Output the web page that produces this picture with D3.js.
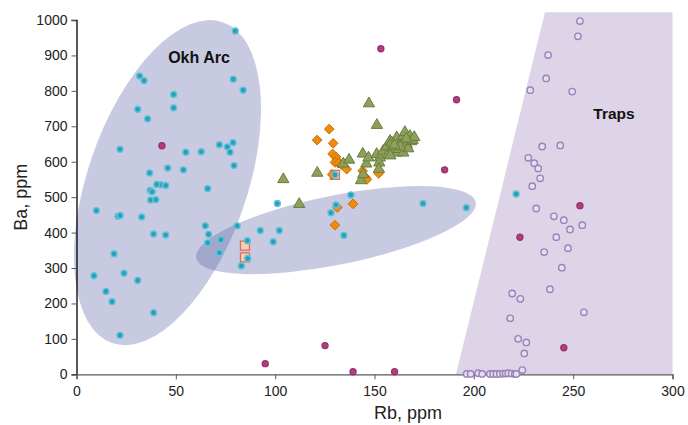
<!DOCTYPE html>
<html>
<head>
<meta charset="utf-8">
<script src="https://cdn.jsdelivr.net/npm/d3@7"></script>
<style>
  html, body { margin: 0; padding: 0; background: #fff; }
  svg { display: block; font-family: Arial, "Liberation Sans", sans-serif; }
</style>
</head>
<body>
<svg id="chart" width="688" height="425"></svg>
<script>
// Rb (ppm) vs Ba (ppm) discrimination plot

const xTicks = [0, 50, 100, 150, 200, 250, 300];
const yTicks = [0, 100, 200, 300, 400, 500, 600, 700, 800, 900, 1000];

// Okhotsk arc volcanics
const arcRb = [79.9,31.8,34.0,78.9,83.9,48.9,30.8,48.9,35.8,21.9,71.9,78.8,75.9,77.3,62.8,55.0,79.3,45.9,53.8,36.8,66.0,42.5,44.9,40.4,37.1,38.1,37.3,39.9,10.0,20.9,22.0,32.8,64.8,38.8,44.9,66.5,72.7,66.0,71.9,80.9,18.9,8.8,23.9,30.8,14.8,17.9,38.8,21.9,83.0,101.1,130.6,138.1,128.1,134.6,174.4,196.2,92.5,102.1,99.0,86.0,86.2,130.1,221.3];
const arcBa = [969,842,829,833,802,790,748,752,721,635,648,654,642,627,628,627,589,582,577,568,524,535,533,536,519,515,492,493,462,446,448,444,419,396,393,395,380,371,343,419,340,278,285,265,234,205,174,110,306,482,478,506,456,392,482,470,406,406,374,377,327,563,509];

// Green triangle group
const triRb = [104.1,112.1,121.2,147.2,151.2,134.3,137.2,144.1,145.9,147.0,143.2,144.3,151.1,152.7,152.4,152.2,154.4,156.1,156.9,157.8,158.6,159.4,160.0,161.2,161.2,162.0,162.8,163.5,164.5,164.5,165.3,166.2,167.0,167.8,168.5,169.2,170.0,158.0,163.0,166.0,160.0];
const triBa = [553,483,571,767,706,597,608,625,597,614,550,567,624,614,600,582,633,645,624,661,657,642,630,671,628,638,652,660,675,628,686,652,640,675,660,664,672,620,645,668,650];

// Orange diamond group
const diaRb = [127.2,121.1,129.2,128.9,130.6,131.0,130.1,131.8,133.5,136.0,144.0,145.5,146.2,152.1,128.7,131.3,139.2,130.1];
const diaBa = [692,661,652,622,614,605,598,596,591,579,574,556,550,567,564,471,481,421];

// Square group
const sqRb = [84.8,84.8,130.1];
const sqBa = [363,330,563];

// Magenta circle group
const magRb = [43.0,153.2,191.3,185.3,95.0,125.1,139.2,160.1,253.4,223.2,245.3];
const magBa = [645,919,775,577,30,81,7,7,476,387,75];

// Trap basalts (open circles)
const trapRb = [253.4,252.4,237.4,236.4,228.4,249.5,234.4,243.5,227.4,230.4,232.4,233.4,229.4,231.4,240.3,245.3,254.6,248.4,241.5,247.4,235.4,244.3,238.3,219.3,223.4,255.4,218.3,222.3,226.4,225.4,224.4,196.4,198.4,202.2,204.2,208.1,209.7,211.4,213.1,214.7,216.0,217.3,219.0,220.6,221.4];
const trapBa = [997,954,901,835,802,798,643,646,611,596,581,553,531,468,446,435,421,409,387,356,345,301,240,228,213,175,158,100,90,59,12,1,1,3,1,1,1,1,1,2,2,3,2,1,1];

// Field outlines
const trapField = [[235.8,1022],[300,1022],[300,0],[191,0]];
const arcField = { rb: 45.8, ba: 541 };
const arcTail = { rb: 130.6, ba: 407 };

const svg = d3.select("#chart");
const x = d3.scaleLinear().domain([0, 300]).range([76.5, 672.5]);
const y = d3.scaleLinear().domain([0, 1000]).range([374.3, 20]);

const zip = (a, b) => a.map((v, i) => [v, b[i]]);

// fields
svg.append("path")
  .attr("d", d3.line().x(d => x(d[0])).y(d => y(d[1]))(trapField) + "Z")
  .attr("fill", "#ddd4e7");

svg.append("ellipse")
  .attr("cx", 0).attr("cy", 0).attr("rx", 169.7).attr("ry", 79.8)
  .attr("transform", `translate(${x(arcField.rb)},${y(arcField.ba)}) rotate(-71)`)
  .attr("fill", "#5a64a8").attr("fill-opacity", 0.34);

svg.append("ellipse")
  .attr("cx", 0).attr("cy", 0).attr("rx", 142.6).attr("ry", 34.6)
  .attr("transform", `translate(${x(arcTail.rb)},${y(arcTail.ba)}) rotate(-11.35)`)
  .attr("fill", "#5a64a8").attr("fill-opacity", 0.34);

// axes
const yAxis = svg.append("g")
  .attr("transform", `translate(${x(0)},0)`)
  .call(d3.axisLeft(y).tickValues(yTicks).tickSize(5).tickPadding(4).tickFormat(d3.format("d")));
yAxis.select(".domain").attr("stroke", "#000").attr("stroke-width", 1.3);
yAxis.selectAll(".tick line").attr("stroke", "#595959");
yAxis.selectAll(".tick text").attr("font-size", 14).attr("fill", "#222")
  .attr("font-family", "Arial, 'Liberation Sans', sans-serif");

const xAxis = svg.append("g")
  .attr("transform", `translate(0,${y(0)})`)
  .call(d3.axisBottom(x).tickValues(xTicks).tickSize(5).tickPadding(7).tickFormat(d3.format("d")));
xAxis.select(".domain").attr("stroke", "#595959").attr("stroke-width", 1.3);
xAxis.selectAll(".tick line").attr("stroke", "#595959");
xAxis.selectAll(".tick text").attr("font-size", 14).attr("fill", "#222")
  .attr("font-family", "Arial, 'Liberation Sans', sans-serif");

// axis titles
svg.append("text").attr("x", 408).attr("y", 419).attr("text-anchor", "middle")
  .attr("font-size", 18).attr("fill", "#222").text("Rb, ppm");
svg.append("text").attr("transform", `translate(27,${y(500)}) rotate(-90)`)
  .attr("text-anchor", "middle").attr("font-size", 18).attr("fill", "#222").text("Ba, ppm");

// trap basalts
svg.append("g").selectAll("circle").data(zip(trapRb, trapBa)).join("circle")
  .attr("cx", d => x(d[0])).attr("cy", d => y(d[1])).attr("r", 3.2)
  .attr("fill", "#e6deef").attr("stroke", "#9a82ba").attr("stroke-width", 1.4);

// squares
svg.append("g").selectAll("rect").data(zip(sqRb, sqBa)).join("rect")
  .attr("x", d => x(d[0]) - 4.5).attr("y", d => y(d[1]) - 4.5)
  .attr("width", 9).attr("height", 9)
  .attr("fill", "#f8cfb2").attr("stroke", "#d8715c").attr("stroke-width", 1.3);

// diamonds
const diamond = d3.symbol().type(d3.symbolDiamond2).size(60);
svg.append("g").selectAll("path").data(zip(diaRb, diaBa)).join("path")
  .attr("d", diamond)
  .attr("transform", d => `translate(${x(d[0])},${y(d[1])}) rotate(0)`)
  .attr("fill", "#ef8c0b").attr("stroke", "#c7700a").attr("stroke-width", 1);

// triangles
const tri = d3.symbol().type(d3.symbolTriangle).size(55);
svg.append("g").selectAll("path").data(zip(triRb, triBa)).join("path")
  .attr("d", tri)
  .attr("transform", d => `translate(${x(d[0])},${y(d[1]) + 1})`)
  .attr("fill", "#8ea05c").attr("stroke", "#6b7d3a").attr("stroke-width", 1);

// arc samples
svg.append("g").selectAll("circle").data(zip(arcRb, arcBa)).join("circle")
  .attr("cx", d => x(d[0])).attr("cy", d => y(d[1])).attr("r", 3)
  .attr("fill", "#2b9fba").attr("stroke", "#63c3d7").attr("stroke-width", 1.4);

// magenta samples
svg.append("g").selectAll("circle").data(zip(magRb, magBa)).join("circle")
  .attr("cx", d => x(d[0])).attr("cy", d => y(d[1])).attr("r", 3)
  .attr("fill", "#b8435c").attr("stroke", "#972f86").attr("stroke-width", 1.4);

// field labels
svg.append("text").attr("x", 199).attr("y", 63).attr("text-anchor", "middle")
  .attr("font-size", 16).attr("font-weight", "bold").attr("fill", "#111").text("Okh Arc");
svg.append("text").attr("x", 614).attr("y", 119).attr("text-anchor", "middle")
  .attr("font-size", 15.5).attr("font-weight", "bold").attr("fill", "#111").text("Traps");
</script>
</body>
</html>
